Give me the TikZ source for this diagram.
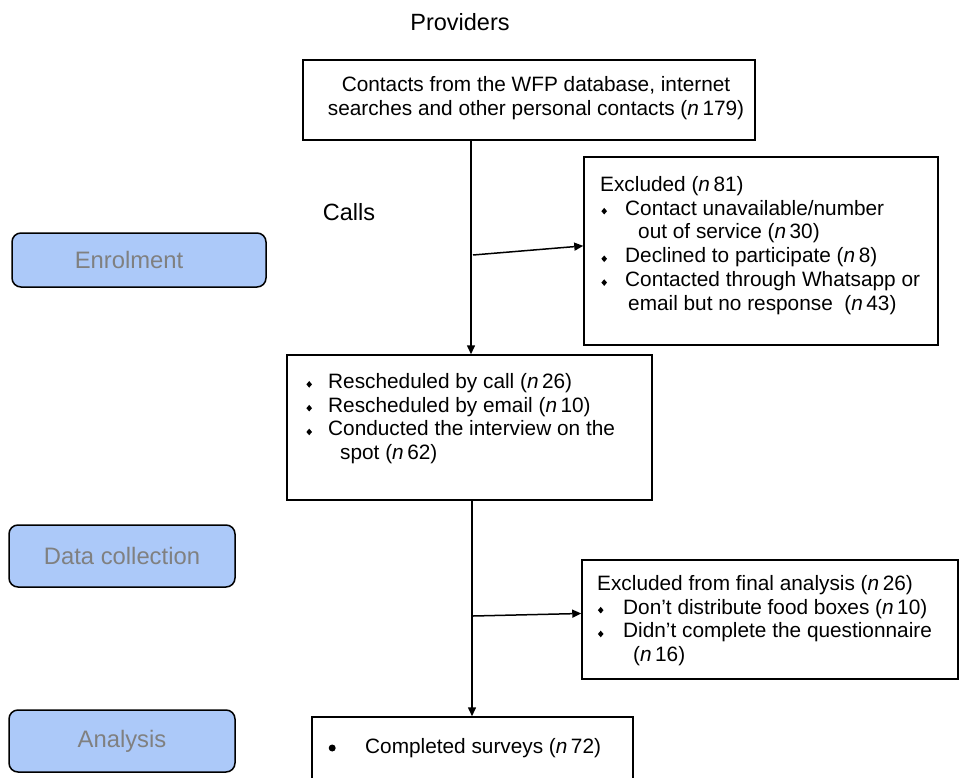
\documentclass[tikz,border=0pt]{standalone}
\usepackage{fontspec}
\setmainfont{Liberation Sans}
\usetikzlibrary{arrows.meta,calc}
\definecolor{phasefill}{RGB}{172,201,249}
\definecolor{phasetext}{RGB}{128,128,128}
\newcommand{\dia}{\tikz[x=1pt,y=1pt,baseline=0pt]\fill (0,0.6)--(2.8,3.9)--(0,7.2)--(-2.8,3.9)--cycle;}
\newcommand{\nn}[1]{(\textit{n}\,#1)}
\begin{document}
\begin{tikzpicture}[x=1pt,y=-1pt,
  box/.style={draw,line width=1.5pt,inner sep=0pt},
  phase/.style={draw,line width=1.5pt,rounded corners=9pt,fill=phasefill,text=phasetext,font=\fontsize{23.8}{26}\selectfont,inner sep=0pt},
  txt/.style={inner sep=0pt,align=left,anchor=north west,font=\fontsize{20.8}{23.8}\selectfont},
  conn/.style={line width=1.5pt},
  arr/.style={conn,-{Triangle[length=9pt,width=8pt]}},
  lbl/.style={inner sep=0pt,font=\fontsize{23.5}{26}\selectfont}]
\useasboundingbox (0,0) rectangle (960,778);
\clip (0,0) rectangle (960,778);

% labels
\node[lbl] (prov) at (460,22) {Providers};
\node[lbl] (calls) at (349,212) {Calls};

% phase boxes
\node[phase,minimum width=254pt,minimum height=54pt] (enrol) at (139,260) {};
\node[inner sep=0pt,text=phasetext,font=\fontsize{23.8}{26}\selectfont] (enroltext) at (129,260) {Enrolment};
\node[phase,minimum width=226pt,minimum height=62pt] (datacol) at (122,556) {Data collection};
\node[phase,minimum width=226pt,minimum height=62pt] (analph) at (122,741) {Analysis};

% main boxes
\node[box,minimum width=452pt,minimum height=80pt] (top) at (529,100) {};
\node[txt,anchor=center,align=center] (toptext) at (536,98.5) {Contacts from the WFP database, internet\\searches and other personal contacts \nn{179}};

\node[box,minimum width=354pt,minimum height=188pt] (excl1) at (761,251) {};
\node[txt] (excl1text) at (600,176) {Excluded \nn{81}\\
\makebox[25pt][l]{\hspace{1.2pt}\dia}Contact unavailable/number\\
\hspace{38pt}out of service \nn{30}\\
\makebox[25pt][l]{\hspace{1.2pt}\dia}Declined to participate \nn{8}\\
\makebox[25pt][l]{\hspace{1.2pt}\dia}Contacted through Whatsapp or\\
\hspace{28pt}email but no response\ \ \nn{43}};

\node[box,minimum width=365pt,minimum height=145pt] (mid) at (469.5,427.5) {};
\node[txt] (midtext) at (304,373) {\makebox[24pt][l]{\hspace{2.2pt}\dia}Rescheduled by call \nn{26}\\
\makebox[24pt][l]{\hspace{2.2pt}\dia}Rescheduled by email \nn{10}\\
\makebox[24pt][l]{\hspace{2.2pt}\dia}Conducted the interview on the\\
\hspace{36pt}spot \nn{62}};

\node[box,minimum width=376pt,minimum height=119pt] (excl2) at (770,619.5) {};
\node[txt] (excl2text) at (597,575) {Excluded from final analysis \nn{26}\\
\makebox[26pt][l]{\hspace{0.7pt}\dia}Don't distribute food boxes \nn{10}\\
\makebox[26pt][l]{\hspace{0.7pt}\dia}Didn't complete the questionnaire\\
\hspace{36pt}\nn{16}};

\node[box,minimum width=321pt,minimum height=120pt] (anal) at (472.5,777) {};
\node[inner sep=0pt,anchor=base west,font=\fontsize{20.8}{23.8}\selectfont] (analtext) at (328.5,753) {\makebox[36.5pt][l]{\tikz[x=1pt,y=1pt,baseline=0pt]\fill (3.5,5) circle (3.5);}Completed surveys \nn{72}};

% connectors
\coordinate (a1) at (471,0);
\draw[arr] (top.south -| a1) -- (mid.north -| a1);
\coordinate (b1) at (473,255);
\draw[arr] (b1) -- ($(excl1.north west)!0.473!(excl1.south west)$);
\coordinate (a2) at (472,0);
\draw[arr] (mid.south -| a2) -- (anal.north -| a2);
\coordinate (b2) at (473,616);
\draw[arr] (b2) -- ($(excl2.north west)!0.45!(excl2.south west)$);
\end{tikzpicture}
\end{document}
